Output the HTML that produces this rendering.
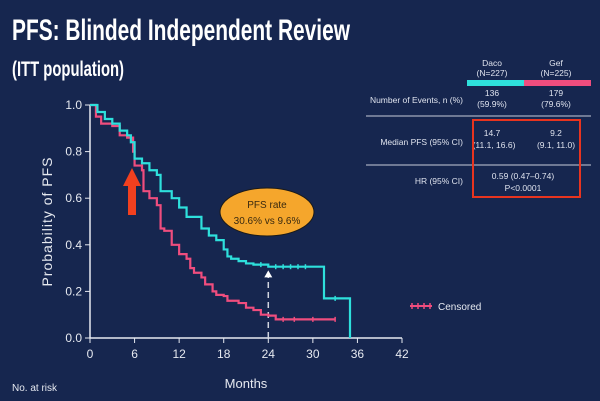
<!DOCTYPE html>
<html><head><meta charset="utf-8"><style>
html,body{margin:0;padding:0;background:#16264f;}
svg{display:block;font-family:"Liberation Sans",sans-serif;}
</style></head><body>
<svg id="chart" width="600" height="401" viewBox="0 0 600 401" xmlns="http://www.w3.org/2000/svg">
<rect width="600" height="401" fill="#16264f"/>
<text x="12" y="40" font-size="30" font-weight="bold" fill="#fff" textLength="338" lengthAdjust="spacingAndGlyphs">PFS: Blinded Independent Review</text>
<text x="12" y="76" font-size="21" font-weight="bold" fill="#fff" textLength="112" lengthAdjust="spacingAndGlyphs">(ITT population)</text>
<g id="table" fill="#dfe3ee" font-size="8.5" text-anchor="middle">
<text x="492" y="66">Daco</text>
<text x="492" y="76">(N=227)</text>
<text x="556" y="66">Gef</text>
<text x="556" y="76">(N=225)</text>
<rect x="467" y="80" width="57" height="6" fill="#2ee0dc"/>
<rect x="524" y="80" width="67" height="6" fill="#ef4d7e"/>
<text x="463" y="103" text-anchor="end">Number of Events, n (%)</text>
<text x="492" y="96">136</text>
<text x="492" y="107">(59.9%)</text>
<text x="556" y="96">179</text>
<text x="556" y="107">(79.6%)</text>
<line x1="366" y1="116" x2="591" y2="116" stroke="#c8ccd8" stroke-width="1"/>
<text x="463" y="145" text-anchor="end">Median PFS (95% CI)</text>
<text x="492" y="136">14.7</text>
<text x="494" y="148">(11.1, 16.6)</text>
<text x="556" y="136">9.2</text>
<text x="556" y="148">(9.1, 11.0)</text>
<line x1="366" y1="165" x2="591" y2="165" stroke="#c8ccd8" stroke-width="1"/>
<text x="463" y="184" text-anchor="end">HR (95% CI)</text>
<text x="523" y="179">0.59 (0.47–0.74)</text>
<text x="523" y="191">P&lt;0.0001</text>
<rect x="473" y="120" width="107" height="77" fill="none" stroke="#e8341f" stroke-width="2"/>
</g>
<g id="plot"></g>
</svg>
<script>
const xTicks=[0,6,12,18,24,30,36,42];
const yTicks=[0,0.2,0.4,0.6,0.8,1.0];
const dacoT=[0,0.5,1,2,3,4,5,5.5,6,7,8,9,9.5,11,12,13,15,16,17,18,18.5,19,20,21,22,24,31,31.5,35,35];
const dacoS=[1,1,0.97,0.94,0.92,0.89,0.87,0.84,0.77,0.75,0.72,0.7,0.63,0.6,0.56,0.52,0.47,0.44,0.42,0.38,0.35,0.34,0.33,0.32,0.315,0.306,0.306,0.17,0.17,0];
const gefT=[0,0.8,1.5,3,4,5,5.8,6,7,7.2,8,9,9.5,10,11,12,13,13.5,14,15,15.5,16.5,17,18,18.5,20,21,22,23,24,25,33];
const gefS=[1,0.95,0.92,0.91,0.87,0.86,0.8,0.74,0.72,0.63,0.6,0.57,0.47,0.46,0.4,0.36,0.34,0.3,0.28,0.26,0.23,0.2,0.185,0.18,0.16,0.15,0.13,0.12,0.1,0.096,0.08,0.08];
const dacoCensor=[23,25,26,27,28,29,33];
const gefCensor=[26,27.5,30,33];
const X=t=>90+t*(312/42), Y=v=>338-v*233;
const ns="http://www.w3.org/2000/svg", g=document.getElementById('plot');
function mk(tag,a){const e=document.createElementNS(ns,tag);for(const k in a)e.setAttribute(k,a[k]);g.appendChild(e);return e;}
let ax=mk('path',{d:`M${X(0)},${Y(1)}V${Y(0)}H${X(42)}`,stroke:'#e6e9f0','stroke-width':1.5,fill:'none'});


xTicks.forEach(t=>{const l=mk('line',{x1:X(t),x2:X(t),y1:Y(0),y2:Y(0)+5,stroke:'#e6e9f0'});


const s=mk('text',{x:X(t),y:Y(0)+20,fill:'#e6e9f0','font-size':12,'text-anchor':'middle'});s.textContent=t;

});
yTicks.forEach(v=>{const l=mk('line',{x1:X(0)-5,x2:X(0),y1:Y(v),y2:Y(v),stroke:'#e6e9f0'});


const s=mk('text',{x:X(0)-8,y:Y(v)+4,fill:'#e6e9f0','font-size':12,'text-anchor':'end'});s.textContent=v.toFixed(1);

});
let xt=mk('text',{x:X(21),y:388,fill:'#e6e9f0','font-size':13,'text-anchor':'middle'});xt.textContent='Months';


let yt=mk('text',{x:0,y:0,fill:'#e6e9f0','font-size':14,'text-anchor':'middle','letter-spacing':1,transform:`translate(52,${Y(0.5)}) rotate(-90)`});yt.textContent='Probability of PFS';


let nr=mk('text',{x:12,y:391,fill:'#e6e9f0','font-size':10});nr.textContent='No. at risk';


function stepPath(T,S){let d=`M${X(T[0])},${Y(S[0])}`;for(let i=1;i<T.length;i++)d+=`H${X(T[i])}V${Y(S[i])}`;return d;}
function valAt(T,S,t){let v=S[0];for(let i=0;i<T.length;i++)if(T[i]<=t)v=S[i];return v;}
let dash=mk('line',{x1:X(24),x2:X(24),y1:Y(0),y2:Y(0.27),stroke:'#d0d4de','stroke-width':1.5,'stroke-dasharray':'6,4'});


let ah=mk('path',{d:`M${X(24)-4},${Y(0.26)}L${X(24)},${Y(0.29)}L${X(24)+4},${Y(0.26)}Z`,fill:'#fff'});


let gp=mk('path',{d:stepPath(gefT,gefS),stroke:'#ef4d7e','stroke-width':2.2,fill:'none'});


let dp=mk('path',{d:stepPath(dacoT,dacoS),stroke:'#2ee0dc','stroke-width':2.2,fill:'none'});


dacoCensor.forEach(t=>{const c=mk('line',{x1:X(t),x2:X(t),y1:Y(valAt(dacoT,dacoS,t))-2.5,y2:Y(valAt(dacoT,dacoS,t))+2.5,stroke:'#2ee0dc','stroke-width':1.5});

});
gefCensor.forEach(t=>{const c=mk('line',{x1:X(t),x2:X(t),y1:Y(valAt(gefT,gefS,t))-2.5,y2:Y(valAt(gefT,gefS,t))+2.5,stroke:'#ef4d7e','stroke-width':1.5});

});
let arr=mk('path',{d:'M123,186L132,168L141,186L136,186L136,215L128,215L128,186Z',fill:'#f2401f'});


let el=mk('ellipse',{cx:267,cy:212,rx:47,ry:24,fill:'#f5a62c',stroke:'#1a1a1a','stroke-width':1});


let e1=mk('text',{x:267,y:208,fill:'#3a2a10','font-size':10,'text-anchor':'middle'});e1.textContent='PFS rate';


let e2=mk('text',{x:267,y:224,fill:'#3a2a10','font-size':10,'text-anchor':'middle'});e2.textContent='30.6% vs 9.6%';


let lg=mk('line',{x1:410,x2:432,y1:306,y2:306,stroke:'#ef4d7e','stroke-width':2});


[412,418,424,430].forEach(x=>{const c=mk('line',{x1:x,x2:x,y1:303,y2:309,stroke:'#ef4d7e','stroke-width':1.5});

});
let lt=mk('text',{x:438,y:310,fill:'#e6e9f0','font-size':10});lt.textContent='Censored';


</script>
</body></html>
